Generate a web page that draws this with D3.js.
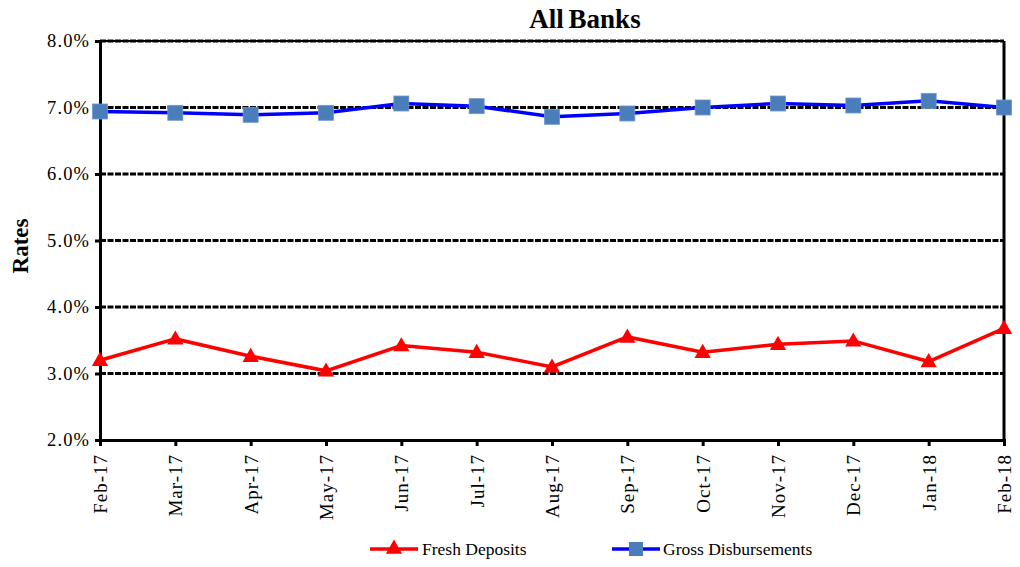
<!DOCTYPE html>
<html><head><meta charset="utf-8">
<script src="https://cdn.jsdelivr.net/npm/d3@7/dist/d3.min.js"></script>
<style>body{margin:0;background:#fff;} text{font-family:"Liberation Serif","Times New Roman",serif;}</style>
</head><body>
<svg id="c" width="1020" height="567"></svg>
<script>
const categories = ["Feb-17","Mar-17","Apr-17","May-17","Jun-17","Jul-17","Aug-17","Sep-17","Oct-17","Nov-17","Dec-17","Jan-18","Feb-18"];
const freshDeposits = [3.20, 3.52, 3.26, 3.04, 3.42, 3.32, 3.10, 3.55, 3.32, 3.44, 3.49, 3.18, 3.68];
const grossDisbursements = [6.94, 6.92, 6.89, 6.92, 7.06, 7.02, 6.86, 6.91, 7.00, 7.06, 7.03, 7.10, 7.00];
const yTicks = [2, 3, 4, 5, 6, 7, 8];

const svg = d3.select("#c");
const L = 100, R = 1004, T = 41, B = 440;
const x = d3.scalePoint().domain(categories).range([L, R]);
const y = d3.scaleLinear().domain([2, 8]).range([B, T]);

// gridlines
svg.append("g").selectAll("line").data(yTicks.filter(d => d > 2)).join("line")
  .attr("x1", L).attr("x2", R).attr("y1", d => y(d)).attr("y2", d => y(d))
  .attr("stroke", "#000").attr("stroke-width", 3).attr("stroke-dasharray", "6,1.5");
// top & right border
svg.append("line").attr("x1", L).attr("x2", R).attr("y1", T).attr("y2", T).attr("stroke", "#000").attr("stroke-width", 2);
svg.append("line").attr("x1", R).attr("x2", R).attr("y1", T).attr("y2", B).attr("stroke", "#000").attr("stroke-width", 3);

// axes
const yAxis = svg.append("g").attr("transform", `translate(${L},0)`)
  .call(d3.axisLeft(y).tickValues(yTicks).tickFormat(d => d.toFixed(1) + "%").tickSize(5).tickPadding(5));
const xAxis = svg.append("g").attr("transform", `translate(0,${B})`)
  .call(d3.axisBottom(x).tickSize(6).tickPadding(4));
[yAxis, xAxis].forEach(a => {
  a.select(".domain").attr("stroke", "#000").attr("stroke-width", 3);
  a.selectAll(".tick line").attr("stroke", "#000").attr("stroke-width", 3);
  a.selectAll("text").attr("font-family", "Liberation Serif").attr("font-size", 18.5).attr("letter-spacing", 1.1).attr("fill", "#000");
});
xAxis.selectAll("text").attr("font-size", 19).attr("letter-spacing", 1).attr("transform", "rotate(-90)").attr("text-anchor", "end")
  .attr("x", -14).attr("y", 0).attr("dy", "0.35em");

// lines
const line = d3.line().x((d, i) => x(categories[i])).y(d => y(d));
svg.append("path").datum(grossDisbursements).attr("d", line).attr("fill", "none").attr("stroke", "#0000ff").attr("stroke-width", 3.5);
svg.append("path").datum(freshDeposits).attr("d", line).attr("fill", "none").attr("stroke", "#ff0000").attr("stroke-width", 3.5);

// markers
const sq = 15;
svg.append("g").selectAll("rect").data(grossDisbursements).join("rect")
  .attr("x", (d, i) => x(categories[i]) - sq / 2).attr("y", d => y(d) - sq / 2)
  .attr("width", sq).attr("height", sq).attr("fill", "#4a7ebb").attr("stroke", "#6f97c8").attr("stroke-width", 0.8);
const tri = d3.symbol().type(d3.symbolTriangle).size(115);
svg.append("g").selectAll("path").data(freshDeposits).join("path")
  .attr("d", tri).attr("transform", (d, i) => `translate(${x(categories[i])},${y(d) + 1})`).attr("fill", "#ff0000");

// title and y label
svg.append("text").attr("x", 585).attr("y", 28).attr("text-anchor", "middle")
  .attr("font-size", 27).attr("font-weight", "bold").attr("word-spacing", -2).text("All Banks");
svg.append("text").attr("transform", "translate(28,246) rotate(-90)").attr("text-anchor", "middle")
  .attr("font-size", 23).attr("font-weight", "bold").text("Rates");

// legend
const lg = svg.append("g");
lg.append("line").attr("x1", 370).attr("x2", 418).attr("y1", 549).attr("y2", 549).attr("stroke", "#ff0000").attr("stroke-width", 3.5);
lg.append("path").attr("d", tri).attr("transform", "translate(394,549)").attr("fill", "#ff0000");
lg.append("text").attr("x", 422).attr("y", 555).attr("font-size", 17.5).text("Fresh Deposits");
lg.append("line").attr("x1", 612).attr("x2", 660).attr("y1", 549).attr("y2", 549).attr("stroke", "#0000ff").attr("stroke-width", 3.5);
lg.append("rect").attr("x", 636 - 7).attr("y", 549 - 7).attr("width", 14).attr("height", 14).attr("fill", "#4a7ebb");
lg.append("text").attr("x", 663).attr("y", 555).attr("font-size", 17.5).text("Gross Disbursements");
</script>
</body></html>
